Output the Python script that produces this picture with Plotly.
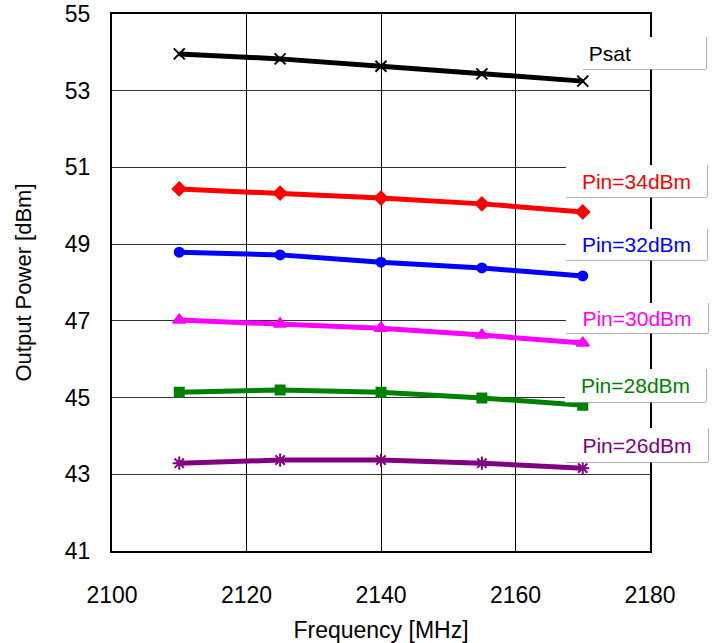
import plotly.graph_objects as go

freq = [2110, 2125, 2140, 2155, 2170]
psat = [53.96, 53.83, 53.64, 53.44, 53.25]
pin34 = [50.44, 50.33, 50.20, 50.05, 49.84]
pin32 = [48.79, 48.72, 48.53, 48.38, 48.17]
pin30 = [47.02, 46.92, 46.81, 46.63, 46.42]
pin28 = [45.14, 45.20, 45.14, 44.99, 44.80]
pin26 = [43.29, 43.37, 43.37, 43.29, 43.16]

names = ["Psat", "Pin=34dBm", "Pin=32dBm", "Pin=30dBm", "Pin=28dBm", "Pin=26dBm"]
series = [psat, pin34, pin32, pin30, pin28, pin26]
colors = ["#000000", "#FF0000", "#0000FF", "#FF00FF", "#008000", "#800080"]
symbols = ["x-thin", "diamond", "circle", "triangle-up", "square", "asterisk"]
msizes = [11, 10, 9, 11, 9, 11]

FONT = "Liberation Sans, Arial, sans-serif"
W, H = 715, 643
L, R, T, B = 112, 65, 14, 92
PW, PH = W - L - R, H - T - B

def px(x):
    return (x - L) / PW

def py(y):
    return (H - B - y) / PH

fig = go.Figure()
for name, ys, c, s, ms in zip(names, series, colors, symbols, msizes):
    fig.add_trace(go.Scatter(
        x=freq, y=ys, mode="lines+markers", name=name,
        line=dict(color=c, width=5),
        marker=dict(symbol=s, size=ms, color=c, line=dict(color=c, width=2)),
        showlegend=False,
    ))

# label boxes (pixel layout): x0, x1, y0, y1, align
boxes = [
    (583, 706, 37, 69, "left"),
    (566, 707, 165, 197, "center"),
    (566, 707, 229, 260, "center"),
    (566, 708, 303, 333, "center"),
    (565, 706, 369, 402, "center"),
    (566, 708, 428, 462, "center"),
]
annotations = []
shapes = []
for name, c, (x0, x1, y0, y1, al) in zip(names, colors, boxes):
    txt = ("\u00a0" + name) if al == "left" else name
    annotations.append(dict(
        xref="paper", yref="paper", x=px(x0), y=py((y0 + y1) / 2),
        xanchor="left", yanchor="middle", text=txt, showarrow=False,
        width=x1 - x0, height=y1 - y0, align=al, valign="middle",
        bgcolor="white", borderpad=0, borderwidth=0,
        font=dict(family=FONT, size=21, color=c),
    ))
    shapes.append(dict(type="line", xref="paper", yref="paper",
                       x0=px(x1), x1=px(x1), y0=py(y0), y1=py(y1),
                       line=dict(color="#999999", width=1.5), layer="above"))
    shapes.append(dict(type="line", xref="paper", yref="paper",
                       x0=px(x0), x1=px(x1), y0=py(y1), y1=py(y1),
                       line=dict(color="#999999", width=1.5), layer="above"))

fig.update_layout(
    width=W, height=H,
    margin=dict(l=L, r=R, t=T, b=B, pad=0, autoexpand=False),
    paper_bgcolor="white", plot_bgcolor="white",
    font=dict(family=FONT, size=21, color="black"),
    annotations=annotations, shapes=shapes,
    xaxis=dict(
        range=[2100, 2180], tickvals=[2100, 2120, 2140, 2160, 2180],
        showgrid=True, gridcolor="black", gridwidth=1,
        showline=True, linecolor="black", linewidth=2, mirror=True,
        ticks="", zeroline=False, ticklabelstandoff=22, automargin=False,
        tickfont=dict(family=FONT, size=23),
        title=dict(text="Frequency [MHz]", font=dict(family=FONT, size=23), standoff=16),
    ),
    yaxis=dict(
        range=[41, 55], tickvals=[41, 43, 45, 47, 49, 51, 53, 55],
        showgrid=True, gridcolor="#333333", gridwidth=1,
        showline=True, linecolor="black", linewidth=2, mirror=True,
        ticks="", zeroline=False, ticklabelstandoff=15, automargin=False,
        tickfont=dict(family=FONT, size=23),
        title=dict(text="Output Power [dBm]", font=dict(family=FONT, size=22), standoff=27),
    ),
)

fig.write_html("out.html")
